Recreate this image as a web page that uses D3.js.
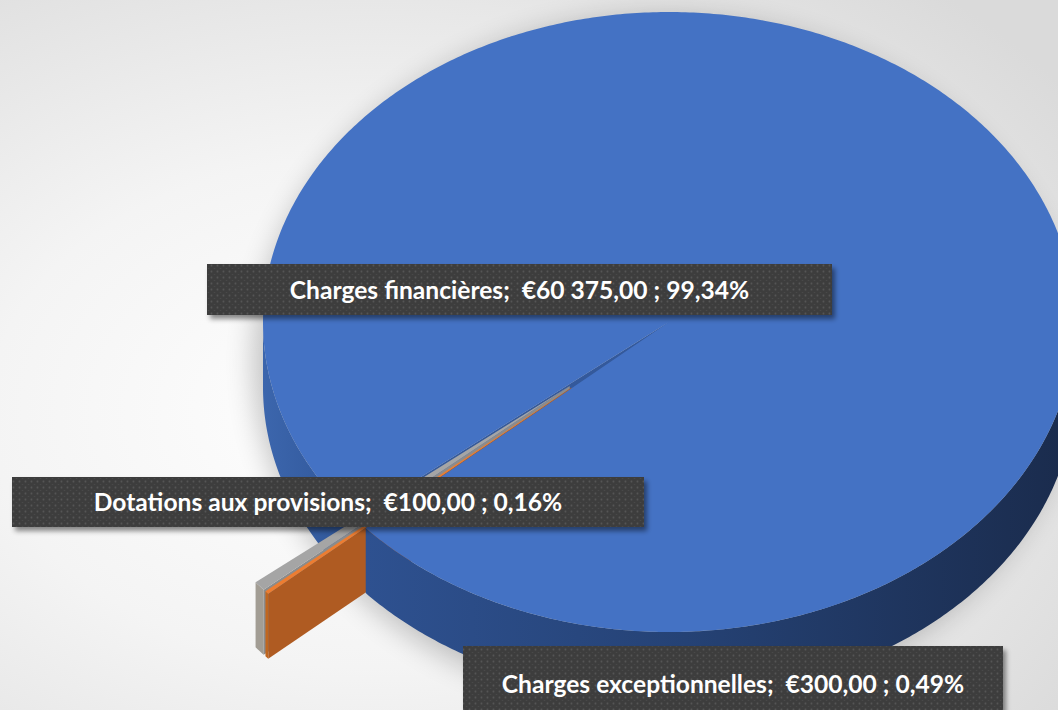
<!DOCTYPE html>
<html>
<head>
<meta charset="utf-8">
<script src="https://cdn.jsdelivr.net/npm/d3@7/dist/d3.min.js"></script>
<style>
  html, body { margin: 0; padding: 0; background: #fff; }
  svg { display: block; }
  .label-text { font-family: Lato, "Open Sans", sans-serif; font-weight: bold; font-size: 24.6px; fill: #fff; white-space: pre; }
</style>
</head>
<body>
<div id="chart"></div>
<script>
// data
var categories = ["Charges financières", "Dotations aux provisions", "Charges exceptionnelles"];
var amounts = [60375, 100, 300];

// styling / layout
var topColors = ["#4472C4", "#ED7D31", "#A5A5A5"];
var faceColors = ["#34599b", "#AF5B22", "#8c8c8c"];
var wallColors = ["#2f5597", "#c0661f", "#a29d94"];
var explode = { "Dotations aux provisions": 0.32, "Charges exceptionnelles": 0.32 };
var labelBoxes = {
	"Charges financières": [207, 264, 625, 51],
	"Dotations aux provisions": [12, 477, 632, 50],
	"Charges exceptionnelles": [463, 646, 540, 76]
};

var WIDTH = 1058, HEIGHT = 710;
var CX = 669, CY = 322, RX = 406, RY = 310, DEPTH = 65;
var FIRST_SLICE_ANGLE = 230.7;

var locale = d3.formatLocale({ decimal: ",", thousands: " ", grouping: [3], currency: ["€", ""] });
var fmtMoney = locale.format("$,.2f");
var fmtPct = locale.format(".2%");

var svg = d3.select("#chart").append("svg")
	.attr("width", WIDTH)
	.attr("height", HEIGHT);

var defs = svg.append("defs");

var bg = defs.append("radialGradient").attr("id", "bg")
	.attr("cx", "35%").attr("cy", "58%").attr("r", "80%");
bg.append("stop").attr("offset", "0").attr("stop-color", "#ffffff");
bg.append("stop").attr("offset", "0.45").attr("stop-color", "#f4f4f4");
bg.append("stop").attr("offset", "1").attr("stop-color", "#dadada");

var wallRight = defs.append("linearGradient").attr("id", "wallRight")
	.attr("x1", 0).attr("x2", 1).attr("y1", 0).attr("y2", 0);
wallRight.append("stop").attr("offset", "0").attr("stop-color", "#2e5190");
wallRight.append("stop").attr("offset", "0.45").attr("stop-color", "#254275");
wallRight.append("stop").attr("offset", "1").attr("stop-color", "#1a2b4c");

var wallLeft = defs.append("linearGradient").attr("id", "wallLeft")
	.attr("x1", 0).attr("x2", 1).attr("y1", 0).attr("y2", 0);
wallLeft.append("stop").attr("offset", "0").attr("stop-color", "#3c66ad");
wallLeft.append("stop").attr("offset", "1").attr("stop-color", "#2f5597");

var blur = defs.append("filter").attr("id", "pieShadow")
	.attr("x", "-20%").attr("y", "-20%").attr("width", "140%").attr("height", "140%");
blur.append("feGaussianBlur").attr("stdDeviation", 14);

var boxShadow = defs.append("filter").attr("id", "boxShadow")
	.attr("x", "-5%").attr("y", "-20%").attr("width", "115%").attr("height", "160%");
boxShadow.append("feDropShadow").attr("dx", 3).attr("dy", 4).attr("stdDeviation", 2.5)
	.attr("flood-color", "#000").attr("flood-opacity", 0.45);

var dots = defs.append("pattern").attr("id", "dots")
	.attr("patternUnits", "userSpaceOnUse").attr("width", 6).attr("height", 6);
dots.append("rect").attr("width", 6).attr("height", 6).attr("fill", "#3e3e3e");
dots.append("circle").attr("cx", 1.5).attr("cy", 1.5).attr("r", 0.9).attr("fill", "#555555");
dots.append("circle").attr("cx", 4.5).attr("cy", 4.5).attr("r", 0.6).attr("fill", "#4a4a4a");

svg.append("rect")
	.attr("width", WIDTH).attr("height", HEIGHT)
	.style("fill", "url(#bg)");

// normalized disc coordinates -> screen
var x = d3.scaleLinear().domain([-1, 1]).range([CX - RX, CX + RX]);
var y = d3.scaleLinear().domain([-1, 1]).range([CY - RY, CY + RY]);

function pt(a, r, off, dy)
{
	return [x(off[0] + r * Math.sin(a)), y(off[1] - r * Math.cos(a)) + (dy || 0)];
}

function arcPts(a0, a1, off, dy)
{
	var n = Math.max(2, Math.ceil(Math.abs(a1 - a0) / 0.01));
	var pts = [];
	for (var i = 0; i <= n; i++) pts.push(pt(a0 + (a1 - a0) * i / n, 1, off, dy));
	return pts;
}

var line = d3.line();

var rad = Math.PI / 180;
var pie = d3.pie().sort(null)
	.startAngle(FIRST_SLICE_ANGLE * rad)
	.endAngle((FIRST_SLICE_ANGLE + 360) * rad);

var total = d3.sum(amounts);
var slices = pie(amounts).map(function(d, i)
{
	var ex = explode[categories[i]] || 0;
	var mid = (d.startAngle + d.endAngle) / 2;
	return {
		i: i,
		name: categories[i],
		value: amounts[i],
		a0: d.startAngle,
		a1: d.endAngle,
		mid: mid,
		exploded: ex > 0,
		off: [ex * Math.sin(mid), -ex * Math.cos(mid)]
	};
});

// front-facing wall segments of a slice (angles where the rim faces the viewer)
function wallSegments(s)
{
	var segs = [];
	for (var k = -1; k <= 2; k++)
	{
		var lo = Math.max(s.a0, Math.PI / 2 + 2 * Math.PI * k);
		var hi = Math.min(s.a1, 3 * Math.PI / 2 + 2 * Math.PI * k);
		if (hi > lo) segs.push([lo, hi]);
	}
	return segs;
}

function wallPath(s, seg)
{
	var top = arcPts(seg[0], seg[1], s.off, 0);
	var bottom = arcPts(seg[1], seg[0], s.off, DEPTH);
	return line(top.concat(bottom)) + "Z";
}

function facePath(s, a)
{
	var apex = pt(0, 0, s.off, 0);
	var rim = pt(a, 1, s.off, 0);
	return line([apex, rim, [rim[0], rim[1] + DEPTH], [apex[0], apex[1] + DEPTH]]) + "Z";
}

function topPath(s)
{
	return line([pt(0, 0, s.off, 0)].concat(arcPts(s.a0, s.a1, s.off, 0))) + "Z";
}

var explodedMid = d3.mean(slices.filter(function(s) { return s.exploded; }), function(s) { return s.mid; });
var mainSlices = slices.filter(function(s) { return !s.exploded; });
var outSlices = slices.filter(function(s) { return s.exploded; }).reverse();

// soft shadow under the pie
svg.append("ellipse")
	.attr("cx", CX - 6).attr("cy", CY + DEPTH / 2 + 8)
	.attr("rx", RX + 4).attr("ry", RY + DEPTH / 2 + 4)
	.attr("fill", "#000").attr("opacity", 0.22)
	.attr("filter", "url(#pieShadow)");

var back = svg.append("g").attr("class", "pie-back");
var middle = svg.append("g").attr("class", "pie-exploded");
var front = svg.append("g").attr("class", "pie-front");

mainSlices.forEach(function(s)
{
	// start face seen through the gap
	if (Math.sin(s.a0) < 0)
	{
		back.append("path").attr("d", facePath(s, s.a0)).attr("fill", faceColors[s.i]);
	}
	wallSegments(s).forEach(function(seg)
	{
		var segMid = ((seg[0] + seg[1]) / 2) % (2 * Math.PI);
		var behind = segMid > (explodedMid % (2 * Math.PI));
		(behind ? back : front).append("path")
			.attr("d", wallPath(s, seg))
			.attr("fill", behind ? "url(#wallLeft)" : "url(#wallRight)");
	});
});

outSlices.forEach(function(s)
{
	var g = middle.append("g").attr("class", "slice s" + s.i);
	wallSegments(s).forEach(function(seg)
	{
		g.append("path").attr("d", wallPath(s, seg)).attr("fill", wallColors[s.i]);
	});
	if (Math.sin(s.a0) < 0) g.append("path").attr("d", facePath(s, s.a0)).attr("fill", faceColors[s.i]);
	if (Math.sin(s.a1) > 0) g.append("path").attr("d", facePath(s, s.a1)).attr("fill", faceColors[s.i]);
	g.append("path").attr("d", topPath(s)).attr("fill", topColors[s.i]);
});

mainSlices.forEach(function(s)
{
	front.append("path").attr("d", topPath(s)).attr("fill", topColors[s.i]);
});

// data labels
var labels = svg.append("g").attr("class", "labels");
slices.forEach(function(s)
{
	var b = labelBoxes[s.name];
	var lg = labels.append("g");
	lg.append("rect")
		.attr("x", b[0]).attr("y", b[1])
		.attr("width", b[2]).attr("height", b[3])
		.attr("fill", "url(#dots)")
		.attr("filter", "url(#boxShadow)");
	lg.append("text")
		.attr("class", "label-text")
		.attr("x", b[0] + b[2] / 2)
		.attr("y", b[1] + b[3] / 2 + 9)
		.attr("text-anchor", "middle")
		.text(s.name + ";  " + fmtMoney(s.value) + " ; " + fmtPct(s.value / total));
});
</script>
</body>
</html>
